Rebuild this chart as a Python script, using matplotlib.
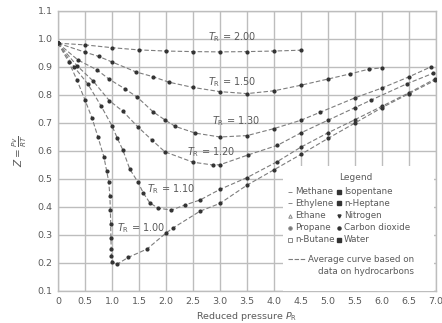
import matplotlib
matplotlib.use("Agg")
import matplotlib.pyplot as plt
import numpy as np

# ---- data ----
pr_200 = [0.0, 0.5, 1.0, 1.5, 2.0, 2.5, 3.0, 3.5, 4.0, 4.5]
z_200 = [0.985, 0.979, 0.969, 0.961, 0.957, 0.955, 0.954, 0.955, 0.957, 0.960]

pr_150 = [0.0, 0.5, 0.75, 1.0, 1.45, 1.75, 2.05, 2.5, 3.0, 3.5, 4.0, 4.5, 5.0, 5.4, 5.75, 6.0]
z_150 = [0.985, 0.953, 0.938, 0.918, 0.882, 0.866, 0.846, 0.827, 0.812, 0.805, 0.815, 0.835, 0.857, 0.875, 0.892, 0.897]

pr_130 = [0.0, 0.37, 0.72, 0.95, 1.24, 1.47, 1.76, 1.98, 2.17, 2.54, 3.0, 3.5, 4.0, 4.5, 4.85, 5.5, 6.0, 6.5, 6.9]
z_130 = [0.985, 0.925, 0.89, 0.856, 0.822, 0.792, 0.74, 0.711, 0.688, 0.664, 0.650, 0.655, 0.680, 0.710, 0.738, 0.790, 0.825, 0.865, 0.900]

pr_120 = [0.0, 0.35, 0.65, 0.95, 1.2, 1.48, 1.74, 1.98, 2.5, 2.87, 3.0, 3.52, 4.06, 4.5, 5.0, 5.5, 5.8, 6.46, 6.95]
z_120 = [0.985, 0.905, 0.85, 0.78, 0.742, 0.686, 0.639, 0.597, 0.560, 0.550, 0.551, 0.586, 0.620, 0.665, 0.710, 0.755, 0.782, 0.840, 0.878]

pr_110 = [0.0, 0.3, 0.55, 0.8, 1.0, 1.1, 1.2, 1.33, 1.48, 1.58, 1.7, 1.85, 2.1, 2.35, 2.63, 3.0, 3.5, 4.06, 4.5, 5.0, 5.5, 6.0, 6.5, 6.98]
z_110 = [0.985, 0.9, 0.84, 0.76, 0.69, 0.645, 0.604, 0.535, 0.489, 0.45, 0.415, 0.396, 0.389, 0.407, 0.425, 0.463, 0.505, 0.562, 0.614, 0.665, 0.712, 0.760, 0.808, 0.857]

pr_100 = [0.0, 0.2, 0.35, 0.5, 0.63, 0.74, 0.85, 0.9, 0.94, 0.96, 0.97, 0.975, 0.98, 0.985, 0.99, 1.0, 1.09, 1.3, 1.65, 2.0, 2.13, 2.63, 3.0, 3.5, 4.0, 4.5, 5.0, 5.5, 6.0, 6.5, 6.98]
z_100 = [0.985, 0.918, 0.854, 0.782, 0.718, 0.650, 0.579, 0.530, 0.490, 0.440, 0.390, 0.340, 0.290, 0.250, 0.225, 0.205, 0.195, 0.220, 0.250, 0.307, 0.325, 0.385, 0.413, 0.478, 0.533, 0.588, 0.645, 0.700, 0.755, 0.805, 0.852]

curves = [
    ("2.00", pr_200, z_200),
    ("1.50", pr_150, z_150),
    ("1.30", pr_130, z_130),
    ("1.20", pr_120, z_120),
    ("1.10", pr_110, z_110),
    ("1.00", pr_100, z_100),
]

# label positions (data coords, left edge)
label_pr = [2.78, 2.78, 2.85, 2.39, 1.65, 1.09]
label_z = [1.007, 0.846, 0.707, 0.596, 0.464, 0.325]

x_ticks = [0, 0.5, 1.0, 1.5, 2.0, 2.5, 3.0, 3.5, 4.0, 4.5, 5.0, 5.5, 6.0, 6.5, 7.0]
x_labels = ["0", "0.5", "1.0", "1.5", "2.0", "2.5", "3.0", "3.5", "4.0", "4.5", "5.0", "5.5", "6.0", "6.5", "7.0"]
y_ticks = [0.1, 0.2, 0.3, 0.4, 0.5, 0.6, 0.7, 0.8, 0.9, 1.0, 1.1]
y_labels = ["0.1", "0.2", "0.3", "0.4", "0.5", "0.6", "0.7", "0.8", "0.9", "1.0", "1.1"]

legend_col1 = ["Methane", "Ethylene", "Ethane", "Propane", "n-Butane"]
legend_col2 = ["Isopentane", "n-Heptane", "Nitrogen", "Carbon dioxide", "Water"]
legend_mk1 = ["_", "_", "^", "o", "s"]
legend_mk2 = ["s", "s", "v", "o", "s"]

# ---- figure ----
W, H = 442, 323
fig = plt.figure(figsize=(W / 100, H / 100), dpi=100)
ax = fig.add_axes([58 / W, 32 / H, 378 / W, 280 / H])

txt = "#5a5a5a"
grid_c = "#bdbdbd"
line_c = "#7d7d7d"

ax.set_xlim(0, 7.0)
ax.set_ylim(0.1, 1.1)
ax.set_xticks(x_ticks)
ax.set_xticklabels(x_labels)
ax.set_yticks(y_ticks)
ax.set_yticklabels(y_labels)
ax.tick_params(length=0, labelsize=6.8, colors=txt, pad=4)
ax.grid(True, color=grid_c, lw=1.0)
for s in ax.spines.values():
    s.set_color(grid_c)
    s.set_linewidth(1.0)

for (name, p, z), lx, ly in zip(curves, label_pr, label_z):
    ax.plot(p, z, ls=(0, (4, 2)), color=line_c, lw=0.8,
            marker="o", ms=2.0, mfc="#333333", mec="#333333", zorder=3)
    ax.text(lx, ly, r"$T_{\rm R}$ = " + name, fontsize=7, color=txt,
            va="center", ha="left", zorder=4)

ax.set_xlabel(r"Reduced pressure $P_{\rm R}$", fontsize=6.8, color=txt, labelpad=3)
ax.set_ylabel(r"$Z = \frac{Pv}{RT}$", fontsize=7.5, color=txt, labelpad=6)

# legend box (white background hides grid)
def px2d(x, y):
    return (x - 58) / 54.0, 0.1 + (291 - y) / 280.0

x0, y0 = px2d(283, 292)
x1, y1 = px2d(434, 166)
ax.add_patch(plt.Rectangle((x0, y0), x1 - x0, y1 - y0, facecolor="white",
                           edgecolor="none", zorder=5))

lx, ly = px2d(356, 177)
ax.text(lx, ly, "Legend", fontsize=6.5, color=txt, ha="center", va="center", zorder=6)
rows_y = [192, 203, 216, 228, 240]
for name1, m1, name2, m2, ry in zip(legend_col1, legend_mk1, legend_col2, legend_mk2, rows_y):
    mx, my = px2d(290, ry)
    ax.plot([mx], [my], marker=m1, ms=2.5, color="#888888", mfc="#777777" if m1 in ("o",) else "none",
            mew=0.7, ls="none", zorder=6)
    tx, _ = px2d(295, ry)
    ax.text(tx, my, name1, fontsize=6.3, color=txt, ha="left", va="center", zorder=6)
    mx2, _ = px2d(339, ry)
    ax.plot([mx2], [my], marker=m2, ms=2.2, color="#333333", ls="none", zorder=6)
    tx2, _ = px2d(344, ry)
    ax.text(tx2, my, name2, fontsize=6.3, color=txt, ha="left", va="center", zorder=6)

a0, ay = px2d(288, 259)
a1, _ = px2d(306, 259)
ax.plot([a0, a1], [ay, ay], ls=(0, (4, 1.5)), color=line_c, lw=0.8, zorder=6)
tx, _ = px2d(308, 259)
ax.text(tx, ay, "Average curve based on", fontsize=6.3, color=txt, ha="left", va="center", zorder=6)
cx, cy = px2d(366, 272)
ax.text(cx, cy, "data on hydrocarbons", fontsize=6.3, color=txt, ha="center", va="center", zorder=6)

fig.savefig("out.png", dpi=100, facecolor="white")
